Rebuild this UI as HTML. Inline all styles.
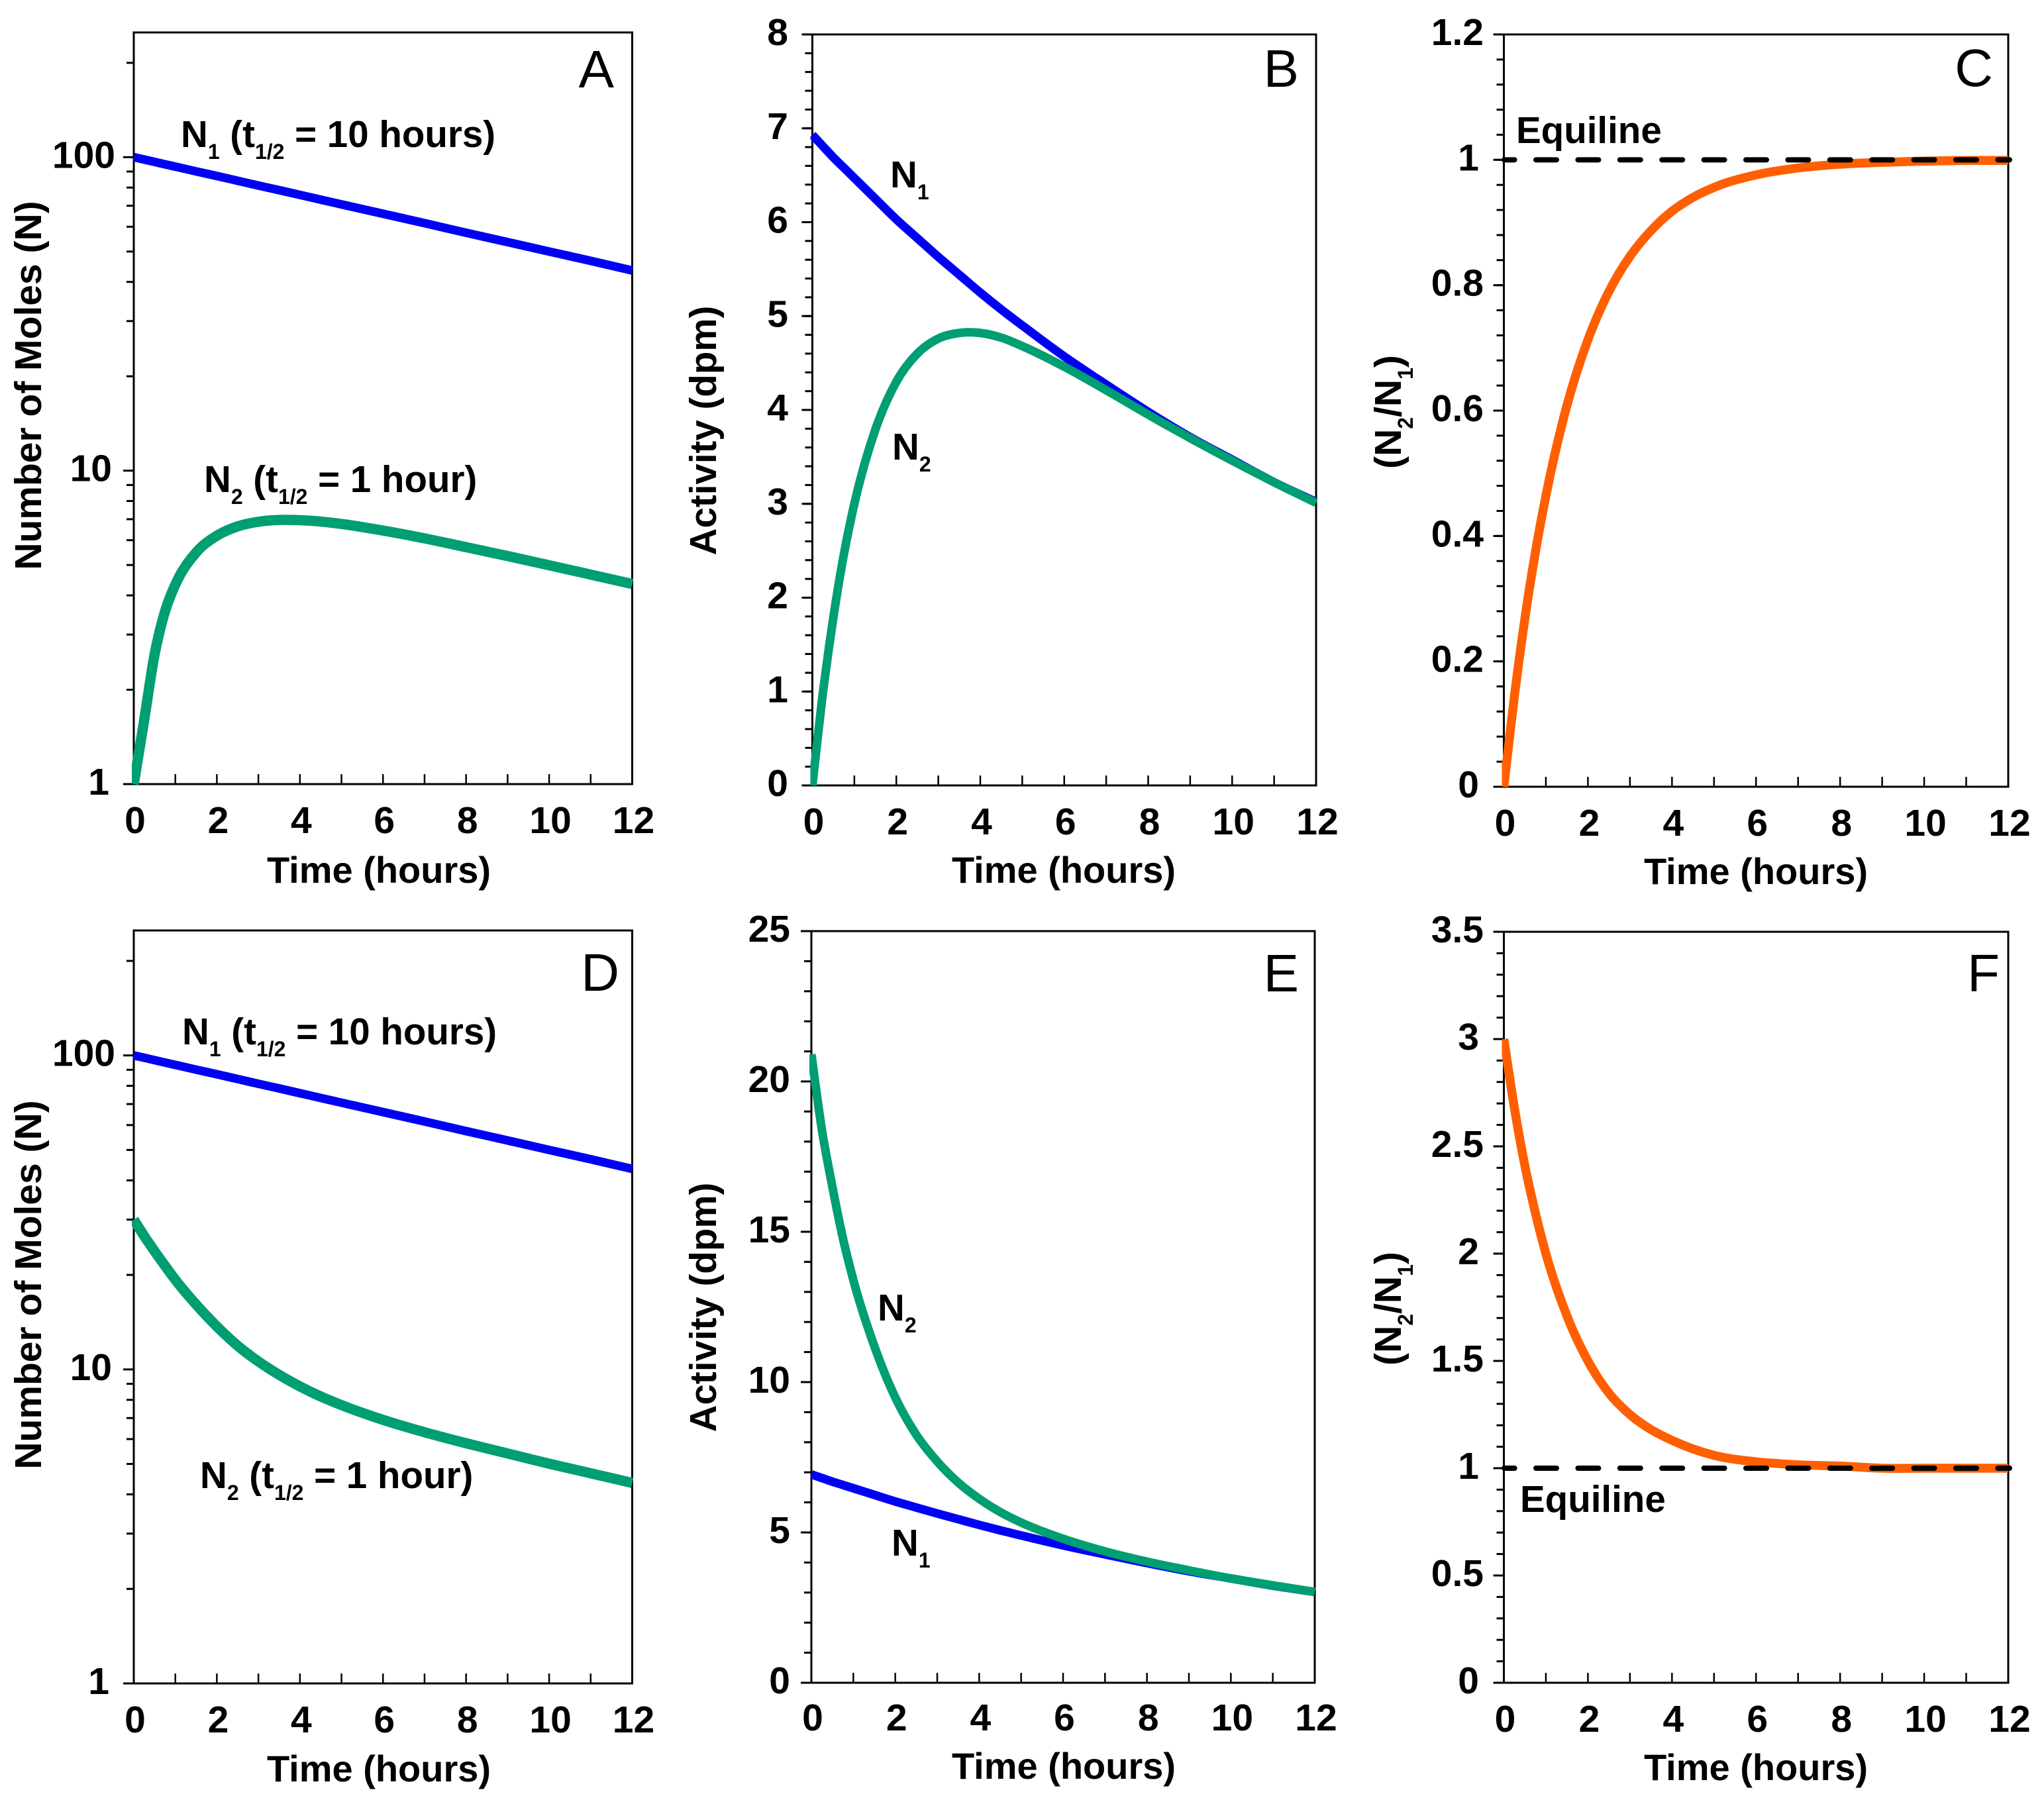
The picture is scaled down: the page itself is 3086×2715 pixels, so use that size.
<!DOCTYPE html>
<html lang="en">
<head>
<meta charset="utf-8">
<title>Transient equilibrium decay charts</title>
<style>
html,body{margin:0;padding:0;background:#fff}
svg{display:block}
text{font-family:"Liberation Sans",Arial,sans-serif;fill:#000}
.tick{font-weight:700;font-size:57px}
.xt{font-weight:700;font-size:56px}
.yt{font-weight:700;font-size:57px}
.yta{font-weight:700;font-size:56.5px}
.an{font-weight:700;font-size:56.5px}
.pl{font-weight:400;font-size:80px}
</style>
</head>
<body>
<svg id="fig" xmlns="http://www.w3.org/2000/svg" width="3086" height="2715" viewBox="0 0 3086 2715">
<rect x="0" y="0" width="3086" height="2715" fill="#fff"/>
<g id="marks"></g>

<text class="pl" x="927" y="132" text-anchor="end">A</text>
<text class="pl" x="1961" y="131" text-anchor="end">B</text>
<text class="pl" x="3009" y="130" text-anchor="end">C</text>
<text class="pl" x="935" y="1496" text-anchor="end">D</text>
<text class="pl" x="1961" y="1497" text-anchor="end">E</text>
<text class="pl" x="3019" y="1497" text-anchor="end">F</text>

<text class="xt" x="572" y="1333" text-anchor="middle">Time (hours)</text>
<text class="xt" x="1606" y="1333" text-anchor="middle">Time (hours)</text>
<text class="xt" x="2651" y="1335" text-anchor="middle">Time (hours)</text>
<text class="xt" x="572" y="2690" text-anchor="middle">Time (hours)</text>
<text class="xt" x="1606" y="2686" text-anchor="middle">Time (hours)</text>
<text class="xt" x="2651" y="2688" text-anchor="middle">Time (hours)</text>

<text class="yt" transform="translate(62 582) rotate(-90)" text-anchor="middle">Number of Moles (N)</text>
<text class="yt" transform="translate(62 1940) rotate(-90)" text-anchor="middle">Number of Moles (N)</text>
<text class="yta" transform="translate(1081 650) rotate(-90)" text-anchor="middle">Activity (dpm)</text>
<text class="yta" transform="translate(1081 1974) rotate(-90)" text-anchor="middle">Activity (dpm)</text>
<text class="yt" transform="translate(2115 622) rotate(-90)" text-anchor="middle">(N<tspan font-size="32" dy="18">2</tspan><tspan dy="-18">/N</tspan><tspan font-size="32" dy="18">1</tspan><tspan dy="-18">)</tspan></text>
<text class="yt" transform="translate(2115 1976) rotate(-90)" text-anchor="middle">(N<tspan font-size="32" dy="18">2</tspan><tspan dy="-18">/N</tspan><tspan font-size="32" dy="18">1</tspan><tspan dy="-18">)</tspan></text>

<text class="an" x="273" y="222">N<tspan font-size="32" dy="18">1</tspan><tspan dy="-18"> (t</tspan><tspan font-size="32" dy="18">1/2</tspan><tspan dy="-18"> = 10 hours)</tspan></text>
<text class="an" x="308" y="743">N<tspan font-size="32" dy="18">2</tspan><tspan dy="-18"> (t</tspan><tspan font-size="32" dy="18">1/2</tspan><tspan dy="-18"> = 1 hour)</tspan></text>
<text class="an" x="275" y="1577">N<tspan font-size="32" dy="18">1</tspan><tspan dy="-18"> (t</tspan><tspan font-size="32" dy="18">1/2</tspan><tspan dy="-18"> = 10 hours)</tspan></text>
<text class="an" x="302" y="2247">N<tspan font-size="32" dy="18">2</tspan><tspan dy="-18"> (t</tspan><tspan font-size="32" dy="18">1/2</tspan><tspan dy="-18"> = 1 hour)</tspan></text>
<text class="an" x="1344" y="283">N<tspan font-size="32" dy="18">1</tspan></text>
<text class="an" x="1347" y="694">N<tspan font-size="32" dy="18">2</tspan></text>
<text class="an" x="1325" y="1994">N<tspan font-size="32" dy="18">2</tspan></text>
<text class="an" x="1346" y="2349">N<tspan font-size="32" dy="18">1</tspan></text>
<text class="an" x="2289" y="216">Equiline</text>
<text class="an" x="2295" y="2283">Equiline</text>
</svg>

<script>
const times = [0,0.25,0.5,0.75,1,1.5,2,2.5,3,3.5,4,4.5,5,6,7,8,9,10,11,12];

const molesN1 = [100,98.3,96.6,94.9,93.3,90.1,87.1,84.1,81.2,78.5,75.8,73.2,70.7,66.0,61.6,57.4,53.6,50,46.7,43.5];
const molesN2A = [1,1.6,2.59,3.55,4.33,5.48,6.20,6.64,6.87,6.96,6.95,6.88,6.76,6.44,6.08,5.70,5.34,4.99,4.66,4.35];
const molesN2D = [30,26.6,23.8,21.4,19.3,16.1,13.7,11.9,10.6,9.61,8.83,8.20,7.70,6.91,6.31,5.82,5.40,5.01,4.67,4.35];

const activityN1 = [6.93,6.81,6.69,6.58,6.47,6.25,6.03,5.83,5.63,5.44,5.25,5.07,4.90,4.57,4.27,3.98,3.71,3.47,3.23,3.02];
const activityN2B = [0,0.98,1.79,2.46,3.00,3.79,4.30,4.60,4.76,4.82,4.82,4.77,4.68,4.46,4.21,3.95,3.70,3.46,3.23,3.01];
const activityN2E = [20.9,18.4,16.5,14.8,13.4,11.2,9.49,8.25,7.36,6.66,6.12,5.68,5.33,4.79,4.37,4.03,3.74,3.47,3.24,3.02];

const ratioC = [0,0.144,0.268,0.374,0.464,0.608,0.713,0.790,0.846,0.887,0.918,0.940,0.956,0.976,0.987,0.993,0.996,0.998,0.999,0.999];
const ratioF = [3,2.68,2.41,2.19,2.0,1.71,1.5,1.35,1.25,1.18,1.13,1.09,1.06,1.03,1.016,1.01,1.0,1.0,1.0,1.0];

const equilineValue = [1];

const xHours = [0,1,2,3,4,5,6,7,8,9,10,11,12];
const xTickLabels = ['0','2','4','6','8','10','12'];

const logMajorTicks = [1,10,100];
const logMajorLabels = ['1','10','100'];
const logMinorTicks = [2,3,4,5,6,7,8,9,20,30,40,50,60,70,80,90,200];

const bMajorTicks = [0,1,2,3,4,5,6,7,8];
const bMajorLabels = ['0','1','2','3','4','5','6','7','8'];
const bMinorStep = [0.2];
const cMajorTicks = [0,0.2,0.4,0.6,0.8,1,1.2];
const cMajorLabels = ['0','0.2','0.4','0.6','0.8','1','1.2'];
const cMinorStep = [0.04];
const eMajorTicks = [0,5,10,15,20,25];
const eMajorLabels = ['0','5','10','15','20','25'];
const eMinorStep = [1];
const fMajorTicks = [0,0.5,1,1.5,2,2.5,3,3.5];
const fMajorLabels = ['0','0.5','1','1.5','2','2.5','3','3.5'];
const fMinorStep = [0.1];

const BLUE = '#0000f5';
const GREEN = '#009e73';
const ORANGE = '#ff5f00';

const panels = [
  {id:'a',left:202,right:954.5,top:49,bottom:1184,log:true,yMin:1,yMax:250,major:logMajorTicks,labels:logMajorLabels,minor:logMinorTicks,xBase:1258,anchor3:174,anchor2:169,anchor1:165,
   series:[{name:'n1',values:molesN1,color:BLUE,width:13},{name:'n2',values:molesN2A,color:GREEN,width:15.5}]},
  {id:'b',left:1226.5,right:1987,top:52,bottom:1186,log:false,yMin:0,yMax:8,major:bMajorTicks,labels:bMajorLabels,step:bMinorStep[0],xBase:1260,anchor3:1190,anchor2:1190,anchor1:1190,
   series:[{name:'n1',values:activityN1,color:BLUE,width:13},{name:'n2',values:activityN2B,color:GREEN,width:13}]},
  {id:'c',left:2270.5,right:3032,top:52,bottom:1188,log:false,yMin:0,yMax:1.2,major:cMajorTicks,labels:cMajorLabels,step:cMinorStep[0],xBase:1262,anchor3:2240,anchor2:2240,anchor1:2233,
   series:[{name:'ratio',values:ratioC,color:ORANGE,width:13.5}],equiline:true},
  {id:'d',left:202,right:954.5,top:1405,bottom:2542,log:true,yMin:1,yMax:250,major:logMajorTicks,labels:logMajorLabels,minor:logMinorTicks,xBase:2616,anchor3:174,anchor2:169,anchor1:165,
   series:[{name:'n1',values:molesN1,color:BLUE,width:13},{name:'n2',values:molesN2D,color:GREEN,width:15.5}]},
  {id:'e',left:1225,right:1985,top:1406,bottom:2541,log:false,yMin:0,yMax:25,major:eMajorTicks,labels:eMajorLabels,step:eMinorStep[0],xBase:2613,anchor3:1193,anchor2:1193,anchor1:1193,
   series:[{name:'n1',values:activityN1,color:BLUE,width:13},{name:'n2',values:activityN2E,color:GREEN,width:13}]},
  {id:'f',left:2270.5,right:3032,top:1407,bottom:2541,log:false,yMin:0,yMax:3.5,major:fMajorTicks,labels:fMajorLabels,step:fMinorStep[0],xBase:2615,anchor3:2240,anchor2:2240,anchor1:2233,
   series:[{name:'ratio',values:ratioF,color:ORANGE,width:13.5}],equiline:true}
];

const NS = 'http://www.w3.org/2000/svg';
const root = document.getElementById('marks');

function makeLine(parent,x1,y1,x2,y2,width){
  const l = document.createElementNS(NS,'line');
  l.setAttribute('x1',x1);l.setAttribute('y1',y1);l.setAttribute('x2',x2);l.setAttribute('y2',y2);
  l.setAttribute('stroke','#000');l.setAttribute('stroke-width',width);
  parent.appendChild(l);
  return l;
}
function smoothPath(pts){
  const n = pts.length;
  const m = [];
  for(let i=0;i<n;i++){
    if(i===0){m.push((pts[1][1]-pts[0][1])/(pts[1][0]-pts[0][0]));}
    else if(i===n-1){m.push((pts[n-1][1]-pts[n-2][1])/(pts[n-1][0]-pts[n-2][0]));}
    else{
      const h0=pts[i][0]-pts[i-1][0],h1=pts[i+1][0]-pts[i][0];
      const s0=(pts[i][1]-pts[i-1][1])/h0,s1=(pts[i+1][1]-pts[i][1])/h1;
      m.push((s0*h1+s1*h0)/(h0+h1));
    }
  }
  let d = 'M'+pts[0][0].toFixed(2)+' '+pts[0][1].toFixed(2);
  for(let i=0;i<n-1;i++){
    const h=pts[i+1][0]-pts[i][0];
    d+=' C'+(pts[i][0]+h/3).toFixed(2)+' '+(pts[i][1]+m[i]*h/3).toFixed(2)+' '+(pts[i+1][0]-h/3).toFixed(2)+' '+(pts[i+1][1]-m[i+1]*h/3).toFixed(2)+' '+pts[i+1][0].toFixed(2)+' '+pts[i+1][1].toFixed(2);
  }
  return d;
}

panels.forEach(function(p){
  const g = document.createElementNS(NS,'g');
  
  
  root.appendChild(g);

  const xScale = function(t){return p.left+(t/12)*(p.right-p.left);};
  const yScale = p.log
    ? function(v){return p.bottom-(Math.log10(v)-Math.log10(p.yMin))/(Math.log10(p.yMax)-Math.log10(p.yMin))*(p.bottom-p.top);}
    : function(v){return p.bottom-(v-p.yMin)/(p.yMax-p.yMin)*(p.bottom-p.top);};

  const frame = document.createElementNS(NS,'rect');
  
  
  frame.setAttribute('x',p.left);frame.setAttribute('y',p.top);
  frame.setAttribute('width',p.right-p.left);frame.setAttribute('height',p.bottom-p.top);
  frame.setAttribute('fill','none');frame.setAttribute('stroke','#000');frame.setAttribute('stroke-width',3);
  g.appendChild(frame);

  xHours.forEach(function(h){
    if(h===0||h===12) return;
    const t = makeLine(g,xScale(h),p.bottom,xScale(h),p.bottom-15,2.5);
    
    
  });
  xTickLabels.forEach(function(s){
    const tx = document.createElementNS(NS,'text');
    
    
    tx.setAttribute('class','tick');
    tx.setAttribute('x',xScale(Number(s))+2);
    tx.setAttribute('y',p.xBase);
    tx.setAttribute('text-anchor','middle');
    tx.textContent = s;
    g.appendChild(tx);
  });

  p.major.forEach(function(v,i){
    const t = makeLine(g,p.left-16,yScale(v),p.left,yScale(v),3);
    
    
    const tx = document.createElementNS(NS,'text');
    
    
    tx.setAttribute('class','tick');
    const len = p.labels[i].length;
    tx.setAttribute('x',len===1?p.anchor1:(len===2?p.anchor2:p.anchor3));
    tx.setAttribute('y',yScale(v)+16);
    tx.setAttribute('text-anchor','end');
    tx.textContent = p.labels[i];
    g.appendChild(tx);
  });

  let minors = p.minor;
  if(!minors){
    minors = [];
    const n = Math.round((p.yMax-p.yMin)/p.step);
    for(let i=1;i<n;i++){minors.push(i*p.step);}
  }
  minors.forEach(function(v,i){
    const t = makeLine(g,p.left-11,yScale(v),p.left,yScale(v),3);
    
    
  });

  const clip = document.createElementNS(NS,'clipPath');
  clip.setAttribute('id','clip-'+p.id);
  const cr = document.createElementNS(NS,'rect');
  cr.setAttribute('x',p.left-3);cr.setAttribute('y',p.top);
  cr.setAttribute('width',p.right-p.left+5);cr.setAttribute('height',p.bottom-p.top+1);
  clip.appendChild(cr);
  g.appendChild(clip);

  p.series.forEach(function(s){
    const pts = times.map(function(t,i){return [xScale(t),yScale(s.values[i])];});
    const path = document.createElementNS(NS,'path');
    
    
    path.setAttribute('d',smoothPath(pts));
    path.setAttribute('fill','none');
    path.setAttribute('stroke',s.color);
    path.setAttribute('stroke-width',s.width);
    path.setAttribute('clip-path','url(#clip-'+p.id+')');
    g.appendChild(path);
  });

  if(p.equiline){
    const e = makeLine(g,p.left+0.5,yScale(equilineValue[0]),p.right+2,yScale(equilineValue[0]),8);
    
    
    e.setAttribute('stroke-dasharray','31 32.4');
    e.setAttribute('stroke-dashoffset','15.4');
    e.setAttribute('stroke-linecap','round');
  }
});
</script>
</body>
</html>
